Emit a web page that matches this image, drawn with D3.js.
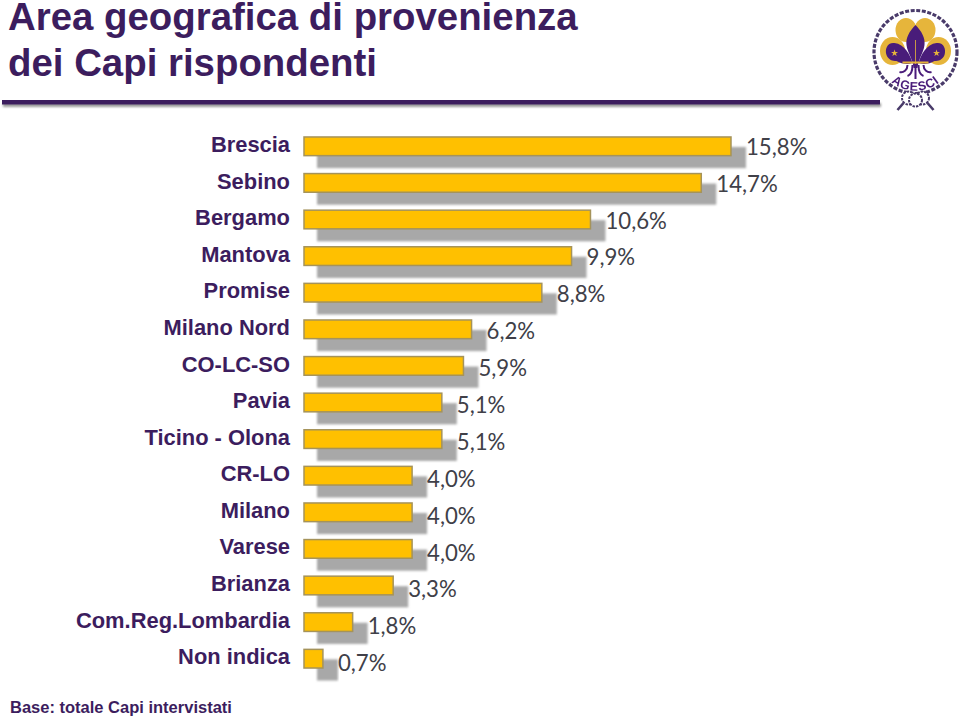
<!DOCTYPE html>
<html><head><meta charset="utf-8">
<script src="https://cdn.jsdelivr.net/npm/d3@7"></script>
<style>html,body{margin:0;padding:0;background:#fff}svg{display:block}</style></head>
<body><svg id="c" width="960" height="721"></svg>
<script>
const categories=["Brescia","Sebino","Bergamo","Mantova","Promise","Milano Nord","CO-LC-SO","Pavia","Ticino - Olona","CR-LO","Milano","Varese","Brianza","Com.Reg.Lombardia","Non indica"];
const values=[15.8,14.7,10.6,9.9,8.8,6.2,5.9,5.1,5.1,4.0,4.0,4.0,3.3,1.8,0.7];
const titleLines=["Area geografica di provenienza","dei Capi rispondenti"];
const footnote="Base: totale Capi intervistati";
const purple="#3c1d5e";
const svg=d3.select("#c");
const defs=svg.append("defs");
defs.append("filter").attr("id","soft").attr("x","-5%").attr("y","-30%").attr("width","110%").attr("height","160%")
  .append("feGaussianBlur").attr("stdDeviation",0.9);
defs.append("filter").attr("id","soft2").attr("x","-5%").attr("y","-200%").attr("width","110%").attr("height","500%")
  .append("feGaussianBlur").attr("stdDeviation",1.3);
defs.append("filter").attr("id","soft3").attr("x","-10%").attr("y","-10%").attr("width","120%").attr("height","120%")
  .append("feGaussianBlur").attr("stdDeviation",0.35);

const x=d3.scaleLinear().domain([0,15.8]).range([304,731]);
const yBar=d3.scaleBand().domain(categories).range([128,677]).paddingInner(0.49).paddingOuter(0.245);
const yCat=d3.scalePoint().domain(categories).range([144.5,656.5]);
const yVal=d3.scalePoint().domain(categories).range([147,663.5]);

// title
svg.selectAll("text.title").data(titleLines).join("text").attr("class","title")
  .attr("x",8).attr("y",(d,i)=>30+i*46).attr("fill",purple)
  .style("font","bold 38.4px 'Liberation Sans',Arial,sans-serif").text(d=>d);
// rule
svg.append("rect").attr("x",3).attr("y",103).attr("width",878).attr("height",4).attr("fill","#9a9a9a").attr("filter","url(#soft2)");
svg.append("rect").attr("x",2).attr("y",100).attr("width",878).attr("height",4.5).attr("fill",purple);

// shadows first
svg.append("g").selectAll("rect").data(values).join("rect")
  .attr("x",x(0)+13).attr("y",(d,i)=>yBar(categories[i])+10)
  .attr("width",d=>x(d)-x(0)+2).attr("height",yBar.bandwidth()+2.5)
  .attr("fill","#a8a8a8").attr("filter","url(#soft)");
// bars
svg.append("g").selectAll("rect").data(values).join("rect")
  .attr("x",x(0)).attr("y",(d,i)=>yBar(categories[i]))
  .attr("width",d=>x(d)-x(0)).attr("height",yBar.bandwidth())
  .attr("fill","#ffc000").attr("stroke","#a5935a").attr("stroke-width",1.5);
// category labels
svg.append("g").selectAll("text").data(categories).join("text")
  .attr("x",290).attr("y",d=>yCat(d)).attr("dy","0.35em").attr("text-anchor","end")
  .attr("fill",purple).style("font","bold 21.9px 'Liberation Sans',Arial,sans-serif").text(d=>d);
// value labels
svg.append("g").selectAll("text").data(values).join("text")
  .attr("x",d=>x(d)+15).attr("y",(d,i)=>yVal(categories[i])).attr("dy","0.35em")
  .attr("fill","#404048").style("font","22.2px Lato,'Open Sans',sans-serif")
  .text(d=>d3.format(".1f")(d).replace(".",",")+"%");
// footnote
svg.append("text").attr("x",10).attr("y",713).attr("fill",purple)
  .style("font","bold 16.5px 'Liberation Sans',Arial,sans-serif").text(footnote);

// logo (decorative emblem)
const logo=svg.append("g").attr("transform","translate(915.5,52)").attr("filter","url(#soft3)");
const gold="#e6b53a", logoPurple="#4a1d7a";
logo.append("circle").attr("r",41.5).attr("fill","none").attr("stroke","#4a3a6a").attr("stroke-width",3.2).attr("stroke-dasharray","4 1.6");
logo.selectAll("ellipse.g").data([[-9.5,-22,10.5,12],[9.5,-22,10.5,12],[-23,-1,12.5,14],[23,-1,12.5,14]]).join("ellipse")
  .attr("cx",d=>d[0]).attr("cy",d=>d[1]).attr("rx",d=>d[2]).attr("ry",d=>d[3]).attr("fill",gold);
logo.append("path").attr("fill",logoPurple).attr("d","M0,-27 C6,-21 10,-14 9,-7 C8,1 3,6 2,16 L-2,16 C-3,6 -8,1 -9,-7 C-10,-14 -6,-21 0,-27Z");
logo.append("path").attr("fill",logoPurple).attr("d","M-3,11 C-5,3 -11,-8 -21,-9 C-28,-10 -31,-3 -29,3 C-27,8 -23,9 -19,9 C-14,12 -8,13 -3,11Z");
logo.append("path").attr("fill",logoPurple).attr("d","M3,11 C5,3 11,-8 21,-9 C28,-10 31,-3 29,3 C27,8 23,9 19,9 C14,12 8,13 3,11Z");
logo.append("line").attr("x1",0).attr("x2",0).attr("y1",-12).attr("y2",12).attr("stroke",gold).attr("stroke-width",0.8);
logo.append("rect").attr("x",-13).attr("y",9.5).attr("width",26).attr("height",2).attr("fill",gold);
logo.selectAll("path.leg").data(["M-8,13 C-8,18 -12,21 -16,20","M8,13 C8,18 12,21 16,20","M-3,13 C-3,19 -5,23 -8,24","M3,13 C3,19 5,23 8,24","M0,13 L0,27"]).join("path")
  .attr("class","leg").attr("fill","none").attr("stroke",logoPurple).attr("stroke-width",2).attr("d",d=>d);
logo.selectAll("text.star").data([-21,21]).join("text").attr("class","star").attr("x",d=>d).attr("y",4).attr("text-anchor","middle")
  .attr("fill",gold).style("font","9px 'DejaVu Sans',sans-serif").text("★");
logo.append("path").attr("id","arcT").attr("fill","none").attr("d","M-33,20 A38.5,38.5 0 0 0 33,20");
logo.append("text").attr("fill",logoPurple).style("font","bold 12.5px 'Liberation Sans',sans-serif").attr("letter-spacing",0.8)
  .append("textPath").attr("href","#arcT").attr("startOffset","50%").attr("text-anchor","middle").text("AGESCI");
logo.append("g").attr("fill","#fff").attr("stroke","#4a3a6a").attr("stroke-width",2).attr("stroke-dasharray","2.5 1")
  .selectAll("circle").data([[-7,46],[7,46],[0,48]]).join("circle").attr("cx",d=>d[0]).attr("cy",d=>d[1]).attr("r",6.5);
logo.append("path").attr("fill","none").attr("stroke","#4a3a6a").attr("stroke-width",2.6).attr("d","M-12,51 L-18,58 M12,51 L18,58");
</script></body></html>
